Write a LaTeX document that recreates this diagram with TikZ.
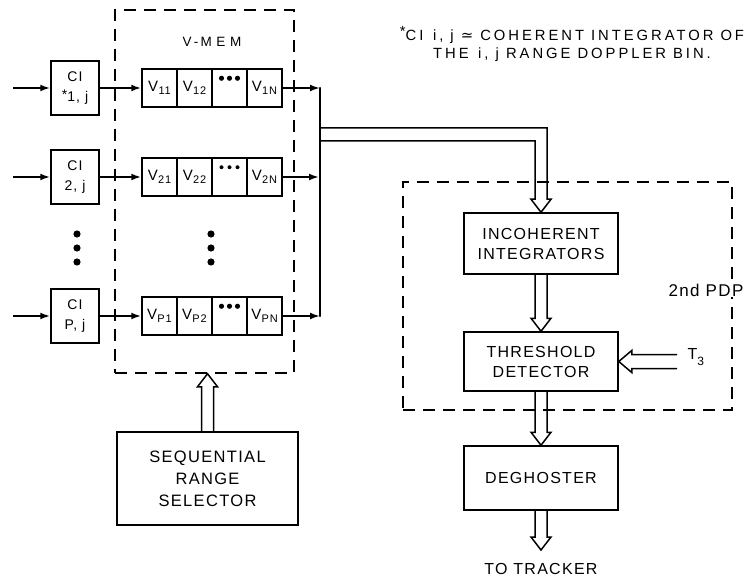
\documentclass[tikz,border=0pt]{standalone}
\usepackage{fontspec}
\setmainfont{Liberation Sans}[LetterSpace=8]
\newfontfamily\notefont{Liberation Sans}[LetterSpace=20]
\newfontfamily\memfont{Liberation Sans}[LetterSpace=35]
\newfontfamily\dejavu{DejaVu Sans}
\usetikzlibrary{arrows.meta,calc}
\newcommand\Vsub[1]{V\kern0.3pt\raisebox{-0.45ex}{\fontsize{11}{11}\selectfont #1}}
\newcommand\hdown[2]{\draw[hol] let \p1=(#1), \p2=(#2) in (\x1-6pt,\y1) -- (\x1-6pt,\y2+13pt) -- (\x1-10pt,\y2+13pt) -- (\x1,\y2) -- (\x1+10pt,\y2+13pt) -- (\x1+6pt,\y2+13pt) -- (\x1+6pt,\y1);}
\newcommand\hup[2]{\draw[hol] let \p1=(#1), \p2=(#2) in (\x1-6pt,\y1) -- (\x1-6pt,\y2-13pt) -- (\x1-10pt,\y2-13pt) -- (\x1,\y2) -- (\x1+10pt,\y2-13pt) -- (\x1+6pt,\y2-13pt) -- (\x1+6pt,\y1);}
\begin{document}
\begin{tikzpicture}[x=1pt,y=-1pt,
 box/.style={draw,line width=1.5pt,inner sep=0pt,align=center},
 cell/.style={draw,line width=1.5pt,minimum width=35pt,minimum height=38pt,inner sep=0pt,font=\fontsize{15}{15}\selectfont},
 wire/.style={line width=2.2pt},
 arr/.style={wire,-{Latex[length=10pt,width=7pt]}},
 hol/.style={line width=1.5pt,line join=miter},
 dashbox/.style={draw,line width=1.5pt,dash pattern=on 12pt off 8pt,inner sep=0pt},
 lab/.style={font=\fontsize{16}{20}\selectfont,align=center},
 cilab/.style={box,minimum width=48pt,minimum height=54pt,font=\fontsize{14}{20}\selectfont}]
\useasboundingbox (0,0) rectangle (752,580);

% dashed containers
\node[dashbox,minimum width=179pt,minimum height=363pt] (vmem) at (204.5,191.5) {};
\node[font=\memfont\fontsize{13.5}{13.5}\selectfont] (vmemlab) at (212,42) {V\,-\,MEM};
\node[dashbox,minimum width=329pt,minimum height=228pt] (pdp) at (567.5,296) {};
\node[lab,font=\fontsize{17}{20}\selectfont,fill=white,inner sep=1pt] (pdplab) at (706,290) {2nd PDP};

% note
\node[align=center,font=\notefont\fontsize{14.8}{18}\selectfont] (note) at (572,44)
 {\raisebox{0.5ex}{*}CI \,i, j {\dejavu ≃} COHERENT INTEGRATOR OF\\THE \,i, j RANGE DOPPLER BIN.};

% CI boxes
\node[cilab] (ci1) at (75,88) {CI\\\raisebox{0.3ex}{*}1, j};
\node[cilab] (ci2) at (75,177) {CI\\2, j};
\node[cilab] (cip) at (75,316) {CI\\P, j};
\coordinate (in1) at (13,88);
\coordinate (in2) at (13,177);
\coordinate (inp) at (13,316);
\draw[arr] (in1) -- (ci1);
\draw[arr] (in2) -- (ci2);
\draw[arr] (inp) -- (cip);
\foreach \y in {234,248,262} {\fill (77,\y) circle (3.6pt); \fill (211,\y) circle (3.6pt);}

% V registers
\node[cell] (v11) at (159.5,88) {\Vsub{11}};
\node[cell] (v12) at (194.5,88) {\Vsub{12}};
\node[cell] (v1d) at (229.5,88) {};
\node[cell] (v1n) at (264.5,88) {\Vsub{1N}};
\node[cell] (v21) at (159.5,177) {\Vsub{21}};
\node[cell] (v22) at (194.5,177) {\Vsub{22}};
\node[cell] (v2d) at (229.5,177) {};
\node[cell] (v2n) at (264.5,177) {\Vsub{2N}};
\node[cell] (vp1) at (159.5,316) {\Vsub{P1}};
\node[cell] (vp2) at (194.5,316) {\Vsub{P2}};
\node[cell] (vpd) at (229.5,316) {};
\node[cell] (vpn) at (264.5,316) {\Vsub{PN}};
\foreach \c/\r in {v1d/2.6,v2d/2,vpd/2.6} {
  \foreach \dx in {-8,0,8} {\fill ($(\c.north)+(\dx,10)$) circle (\r pt);}
}
\draw[arr] (ci1) -- (v11);
\draw[arr] (ci2) -- (v21);
\draw[arr] (cip) -- (vp1);

% bus
\coordinate (b1) at (320,88);
\coordinate (b2) at (319,177);
\coordinate (bp) at (320,316);
\draw[arr] (v1n) -- (b1);
\draw[arr] (v2n) -- (b2);
\draw[arr] (vpn) -- (bp);
\draw[wire,line cap=round] (b1) -- (bp);

% right chain
\node[box,lab,minimum width=154pt,minimum height=61pt] (inc) at (541,243.5) {INCOHERENT\\INTEGRATORS};
\node[box,lab,minimum width=154pt,minimum height=59pt] (thr) at (541,361.5) {THRESHOLD\\DETECTOR};
\node[box,lab,minimum width=154pt,minimum height=64pt] (deg) at (541,478) {DEGHOSTER};
\node[box,lab,font=\fontsize{16.5}{22}\selectfont,minimum width=181pt,minimum height=93pt] (srs) at (207.5,478.5) {SEQUENTIAL\\RANGE\\SELECTOR};
\coordinate (trk) at (541,550);
\node[lab] (trklab) at (541,569) {TO TRACKER};

% hollow bus into incoherent integrators
\coordinate (h1) at (320,128);
\coordinate (h2) at (320,141);
\draw[hol] (h1) -| ($(inc.north)+(6,-13)$) -- ($(inc.north)+(10,-13)$) -- (inc.north)
  -- ($(inc.north)+(-10,-13)$) -- ($(inc.north)+(-6,-13)$) |- (h2);

\hdown{inc.south}{thr.north}
\hdown{thr.south}{deg.north}
\hdown{deg.south}{trk}
\hup{srs.north}{vmem.south}

% T3
\coordinate (t3) at (677,361.5);
\draw[hol] let \p1=(t3), \p2=(thr.east) in (\x1,\y1+7pt) -- (\x2+13pt,\y1+7pt) -- (\x2+13pt,\y1+11pt) -- (\x2,\y1) -- (\x2+13pt,\y1-11pt) -- (\x2+13pt,\y1-7pt) -- (\x1,\y1-7pt);
\node[font=\fontsize{16}{16}\selectfont,anchor=west] (t3lab) at (684,357) {T\raisebox{-0.7ex}{\fontsize{12}{12}\selectfont 3}};
\end{tikzpicture}
\end{document}
